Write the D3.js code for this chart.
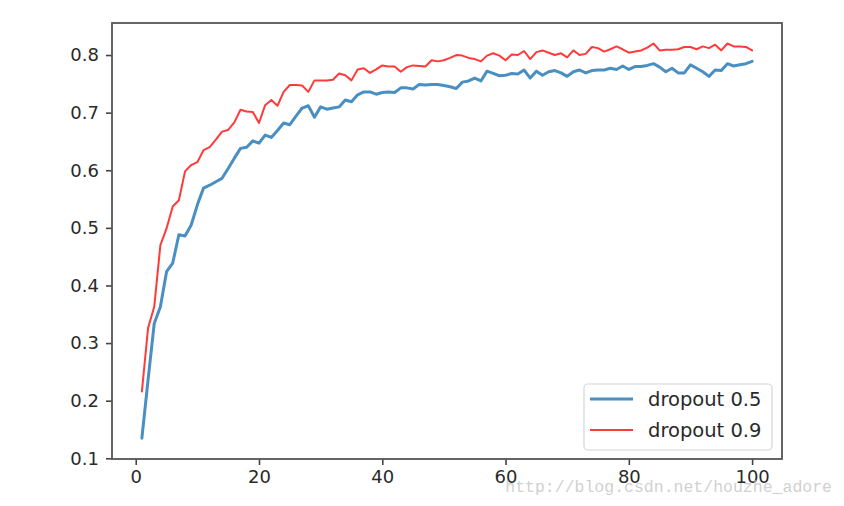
<!DOCTYPE html>
<html>
<head>
<meta charset="utf-8">
<script src="https://cdn.jsdelivr.net/npm/d3@7"></script>
<style>
  html, body { margin: 0; padding: 0; background: #fff; }
  svg { display: block; }
</style>
</head>
<body>
<svg id="chart" width="844" height="506"></svg>
<script>
const epochs = d3.range(1, 101);
const dropout05 = [0.135,0.236,0.334,0.363,0.424,0.439,0.488,0.486,0.505,0.540,
0.569,0.574,0.580,0.586,0.603,0.621,0.638,0.640,0.651,0.647,
0.661,0.657,0.669,0.682,0.679,0.694,0.708,0.712,0.692,0.710,
0.706,0.708,0.710,0.722,0.719,0.731,0.736,0.736,0.732,0.735,
0.736,0.735,0.743,0.743,0.741,0.749,0.748,0.749,0.749,0.747,
0.745,0.742,0.753,0.755,0.760,0.755,0.772,0.768,0.764,0.765,
0.768,0.767,0.774,0.760,0.772,0.765,0.771,0.773,0.769,0.763,
0.771,0.774,0.769,0.773,0.774,0.774,0.777,0.775,0.781,0.775,
0.780,0.780,0.782,0.785,0.779,0.771,0.777,0.769,0.769,0.783,
0.777,0.771,0.763,0.774,0.773,0.785,0.781,0.783,0.785,0.789];
const dropout09 = [0.216,0.326,0.363,0.470,0.499,0.537,0.548,0.598,0.609,0.614,
0.635,0.640,0.653,0.667,0.670,0.683,0.705,0.702,0.701,0.682,
0.713,0.722,0.712,0.736,0.748,0.748,0.747,0.736,0.756,0.756,
0.756,0.757,0.768,0.765,0.756,0.775,0.777,0.769,0.775,0.782,
0.780,0.780,0.771,0.779,0.782,0.781,0.780,0.791,0.789,0.791,
0.795,0.800,0.799,0.795,0.793,0.789,0.799,0.803,0.799,0.791,
0.801,0.800,0.807,0.793,0.805,0.808,0.804,0.800,0.803,0.796,
0.808,0.800,0.802,0.814,0.812,0.806,0.810,0.815,0.810,0.804,
0.806,0.808,0.813,0.820,0.808,0.809,0.809,0.810,0.814,0.814,
0.810,0.815,0.812,0.818,0.808,0.820,0.815,0.815,0.814,0.808];
const xTicks = [0, 20, 40, 60, 80, 100];
const yTicks = [0.1, 0.2, 0.3, 0.4, 0.5, 0.6, 0.7, 0.8];
const seriesNames = ["dropout 0.5", "dropout 0.9"];
const seriesColors = ["#4a8fc2", "#ff3a3a"];
const seriesWidths = [3, 2];

const svg = d3.select("#chart");
const plotLeft = 112, plotTop = 23, plotRight = 782, plotBottom = 459;

const x = d3.scaleLinear().domain([-3.85, 104.85]).range([plotLeft, plotRight]);
const y = d3.scaleLinear().domain([0.0988, 0.8556]).range([plotBottom, plotTop]);

const font = "'DejaVu Sans', sans-serif";

// lines
const line = d3.line().x(d => x(d[0])).y(d => y(d[1]));
[dropout05, dropout09].forEach((vals, k) => {
  svg.append("path")
    .datum(epochs.map((e, i) => [e, vals[i]]))
    .attr("fill", "none")
    .attr("stroke", seriesColors[k])
    .attr("stroke-width", seriesWidths[k])
    .attr("stroke-linejoin", "round")
    .attr("stroke-linecap", "round")
    .attr("d", line);
});

// axes
const xAxis = svg.append("g").attr("transform", `translate(0,${plotBottom})`)
  .call(d3.axisBottom(x).tickValues(xTicks).tickSize(6).tickPadding(5).tickFormat(d3.format("d")));
const yAxis = svg.append("g").attr("transform", `translate(${plotLeft},0)`)
  .call(d3.axisLeft(y).tickValues(yTicks).tickSize(6).tickPadding(7).tickFormat(d3.format(".1f")));
[xAxis, yAxis].forEach(g => {
  g.select(".domain").remove();
  g.selectAll(".tick line").attr("stroke", "#444").attr("stroke-width", 1.6);
  g.selectAll(".tick text").attr("fill", "#2a2a2a").style("font-family", font).style("font-size", "18px");
});

// frame
svg.append("rect")
  .attr("x", plotLeft).attr("y", plotTop)
  .attr("width", plotRight - plotLeft).attr("height", plotBottom - plotTop)
  .attr("fill", "none").attr("stroke", "#555").attr("stroke-width", 1.8);

// legend
const lg = svg.append("g");
lg.append("rect").attr("x", 584).attr("y", 384).attr("width", 188).attr("height", 66)
  .attr("rx", 4).attr("fill", "#fff").attr("fill-opacity", 0.8)
  .attr("stroke", "#d5d5d5").attr("stroke-width", 1.2);
seriesNames.forEach((name, k) => {
  const ly = 399 + k * 31;
  lg.append("line").attr("x1", 590).attr("x2", 633).attr("y1", ly).attr("y2", ly)
    .attr("stroke", seriesColors[k]).attr("stroke-width", seriesWidths[k]);
  lg.append("text").attr("x", 648).attr("y", ly).attr("dy", "0.35em")
    .attr("fill", "#2a2a2a").style("font-family", font).style("font-size", "19.5px")
    .text(name);
});

// watermark
svg.append("text").attr("x", 832).attr("y", 492).attr("text-anchor", "end")
  .attr("fill", "#c4c4c4").attr("fill-opacity", 0.8)
  .style("font-family", "'Liberation Mono', monospace").style("font-size", "16.5px")
  .text("http://blog.csdn.net/houzhe_adore");
</script>
</body>
</html>
